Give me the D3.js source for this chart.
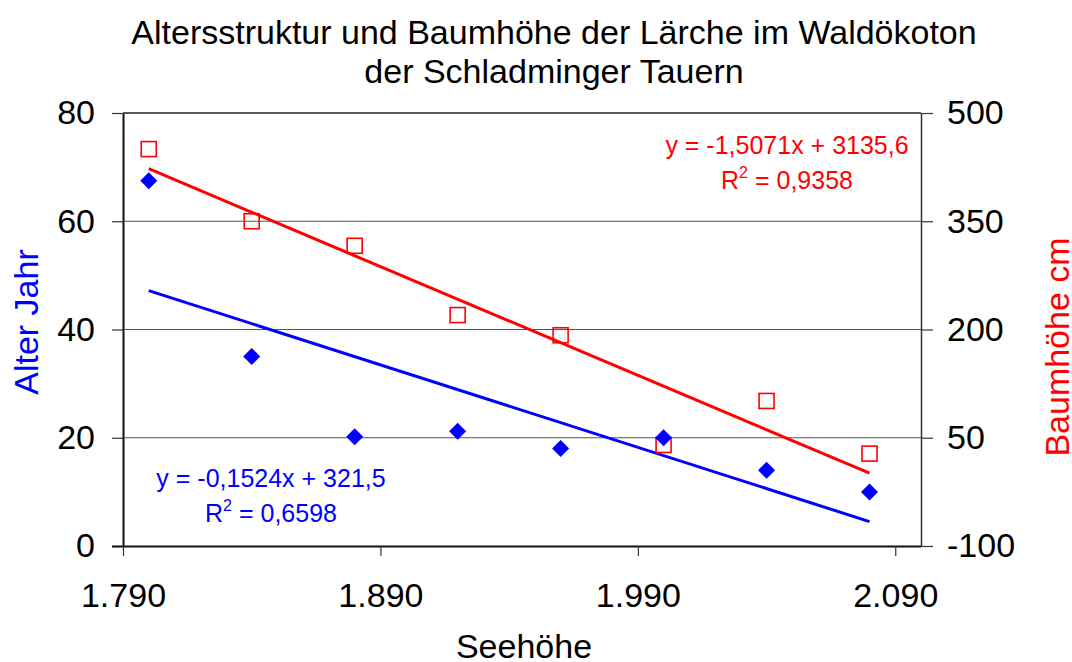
<!DOCTYPE html>
<html>
<head>
<meta charset="utf-8">
<script src="https://cdn.jsdelivr.net/npm/d3@7"></script>
<style>
  html, body { margin: 0; padding: 0; background: #fff; }
  svg { display: block; font-family: "Liberation Sans", Arial, sans-serif; }
</style>
</head>
<body>
<svg id="chart" width="1072" height="662"></svg>
<script>
// Seehöhe (m) of the sample plots
const seehoehe = [1800, 1840, 1880, 1920, 1960, 2000, 2040, 2080];
// Mean age of larches (years)
const alter = [67.5, 35, 20.2, 21.2, 18, 20, 14, 10];
// Mean tree height (cm)
const baumhoehe = [450, 350, 316, 220, 192, 40, 101, 28];

// Linear trend lines: [slope, intercept]
const trendAlter = [-0.1524, 321.5];
const trendHoehe = [-1.5071, 3135.6];

const xTicks = [1790, 1890, 1990, 2090];
const yLeftTicks = [0, 20, 40, 60, 80];
const yRightTicks = [-100, 50, 200, 350, 500];

const fmtX = d => d3.format(",")(d).replace(",", ".");
const fmtPlain = d => String(d);

const svg = d3.select("#chart");
const m = { left: 123, right: 921, top: 113, bottom: 546 };
const FS = 34;

const x = d3.scaleLinear().domain([1790, 2100]).range([m.left, m.right]);
const yL = d3.scaleLinear().domain([0, 80]).range([m.bottom, m.top]);
const yR = d3.scaleLinear().domain([-100, 500]).range([m.bottom, m.top]);

// Horizontal gridlines
svg.append("g").selectAll("line")
  .data(yLeftTicks.filter(d => d > 0))
  .join("line")
  .attr("x1", m.left).attr("x2", m.right)
  .attr("y1", d => yL(d)).attr("y2", d => yL(d))
  .attr("stroke", d => d === 80 ? "#222" : "#555")
  .attr("stroke-width", d => d === 80 ? 1.5 : 1.2);

// Axes
const axisStyle = g => {
  g.attr("font-size", FS).attr("font-family", "'Liberation Sans', Arial, sans-serif");
  g.selectAll("text").attr("fill", "#000");
  g.selectAll(".tick line").attr("stroke", "#333").attr("stroke-width", 1.2);
};

svg.append("g")
  .attr("transform", `translate(${m.left},0)`)
  .call(d3.axisLeft(yL).tickValues(yLeftTicks).tickFormat(fmtPlain).tickSize(11).tickPadding(17).tickSizeOuter(0))
  .call(axisStyle)
  .call(g => g.select(".domain").attr("stroke", "#111").attr("stroke-width", 2));

svg.append("g")
  .attr("transform", `translate(${m.right},0)`)
  .call(d3.axisRight(yR).tickValues(yRightTicks).tickFormat(fmtPlain).tickSize(12).tickPadding(14).tickSizeOuter(0))
  .call(axisStyle)
  .call(g => g.select(".domain").attr("stroke", "#333").attr("stroke-width", 1.5));

svg.append("g")
  .attr("transform", `translate(0,${m.bottom})`)
  .call(d3.axisBottom(x).tickValues(xTicks).tickFormat(fmtX).tickSize(10).tickPadding(27).tickSizeOuter(0))
  .call(axisStyle)
  .call(g => g.select(".domain").attr("stroke", "#111").attr("stroke-width", 2).attr("d", `M${m.left - 11},0.5H${m.right}`));

// Trend lines
const xr = d3.extent(seehoehe);
const trendLine = (t, ys, color) => {
  svg.append("line")
    .attr("x1", x(xr[0])).attr("y1", ys(t[0] * xr[0] + t[1]))
    .attr("x2", x(xr[1])).attr("y2", ys(t[0] * xr[1] + t[1]))
    .attr("stroke", color).attr("stroke-width", 3);
};
trendLine(trendHoehe, yR, "#ff0000");
trendLine(trendAlter, yL, "#0000ff");

// Baumhöhe: open squares
svg.append("g").selectAll("rect")
  .data(seehoehe.map((s, i) => [s, baumhoehe[i]]))
  .join("rect")
  .attr("x", d => x(d[0]) - 7.5).attr("y", d => yR(d[1]) - 7.5)
  .attr("width", 15).attr("height", 15)
  .attr("fill", "none").attr("stroke", "#ff0000").attr("stroke-width", 1.6);

// Alter: filled diamonds
svg.append("g").selectAll("path")
  .data(seehoehe.map((s, i) => [s, alter[i]]))
  .join("path")
  .attr("transform", d => `translate(${x(d[0])},${yL(d[1])})`)
  .attr("d", "M0,-8.5L8.5,0L0,8.5L-8.5,0Z")
  .attr("fill", "#0000ff");

// Regression equations
const eq = (cx, y0, color, eqText, r2) => {
  const g = svg.append("g").attr("fill", color).attr("font-size", 25).attr("text-anchor", "middle");
  g.append("text").attr("x", cx).attr("y", y0).text(eqText);
  const t = g.append("text").attr("x", cx).attr("y", y0 + 35);
  t.append("tspan").text("R");
  t.append("tspan").attr("dy", -11).attr("font-size", 16).text("2");
  t.append("tspan").attr("dy", 11).text(" = " + r2);
};
eq(787, 154, "#ff0000", "y = -1,5071x + 3135,6", "0,9358");
eq(271, 487, "#0000ff", "y = -0,1524x + 321,5", "0,6598");

// Title
const title = svg.append("text").attr("text-anchor", "middle").attr("font-size", FS).attr("fill", "#000");
title.append("tspan").attr("x", 554).attr("y", 44).text("Altersstruktur und Baumhöhe der Lärche im Waldökoton");
title.append("tspan").attr("x", 554).attr("y", 83).text("der Schladminger Tauern");

// Axis titles
svg.append("text").attr("x", 524).attr("y", 658).attr("text-anchor", "middle")
  .attr("font-size", FS).attr("fill", "#000").text("Seehöhe");
svg.append("text").attr("transform", "translate(38,322) rotate(-90)").attr("text-anchor", "middle")
  .attr("font-size", FS).attr("fill", "#0000ff").text("Alter Jahr");
svg.append("text").attr("transform", "translate(1069,347) rotate(-90)").attr("text-anchor", "middle")
  .attr("font-size", FS).attr("fill", "#ff0000").text("Baumhöhe cm");
</script>
</body>
</html>
